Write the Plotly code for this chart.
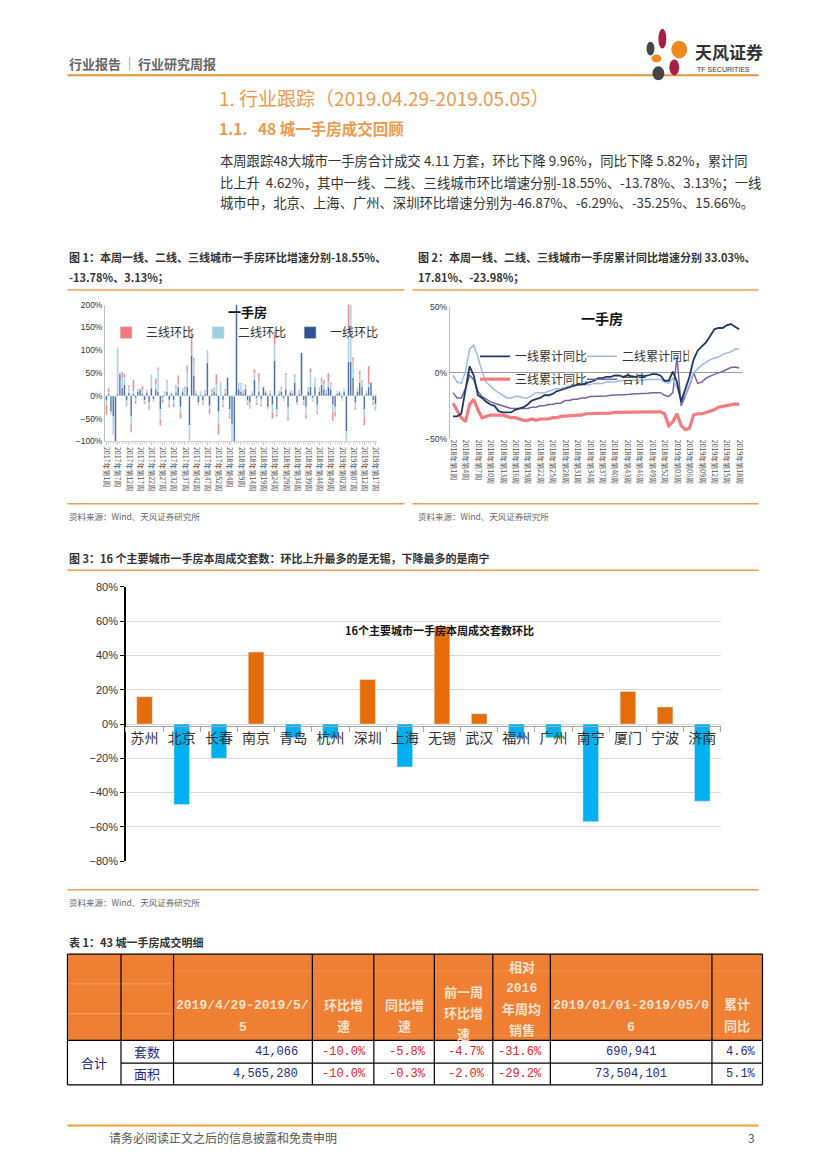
import plotly.graph_objects as go

W, H = 827, 1170
def px(x): return x / W
def py(y): return 1 - y / H

CJK = "Noto Sans CJK SC, Liberation Sans, sans-serif"

# ---------------- Figure 1 data (stacked weekly 环比) ----------------
fig1_ticktext = ["2017年第1周","2017年第7周","2017年第12周","2017年第17周","2017年第22周","2017年第27周",
                 "2017年第32周","2017年第37周","2017年第42周","2017年第47周","2017年第52周","2018年第4周",
                 "2018年第9周","2018年第14周","2018年第19周","2018年第24周","2018年第29周","2018年第34周",
                 "2018年第39周","2018年第44周","2018年第49周","2019年第02周","2019年第07周","2019年第12周",
                 "2019年第17周"]
tier1_hb = [-10,5,-35,-45,-100,5,50,18,25,-10,
            8,-45,5,-5,10,15,5,-10,8,-15,
            17,-8,15,10,-30,-5,3,10,-10,5,
            -10,8,20,-25,10,3,20,-65,90,45,
            5,-15,3,-10,5,73,-22,5,10,5,
            -35,2,-10,5,40,-30,-62,-100,200,15,
            10,5,15,-10,-15,5,35,-5,10,-8,
            20,8,-25,5,-20,78,-30,5,10,-5,
            15,-25,8,5,30,-15,5,95,-10,-25,
            10,20,-5,20,-20,10,25,15,5,20,
            15,-20,-25,5,8,-5,10,-78,75,75,
            40,-15,10,30,20,-30,5,20,30,-10,
            -18.55]
tier2_hb = [-10,3,-5,-40,0,100,0,20,15,-10,
            10,-15,5,-5,3,0,8,-3,2,-5,
            30,-5,10,45,-20,-3,2,20,-8,3,
            -5,10,5,-10,5,12,30,-35,0,30,
            3,-3,5,-5,3,27,-5,3,3,20,
            -25,25,-8,5,0,-15,-38,0,0,8,
            15,5,5,-5,-10,3,15,-10,20,-10,
            0,3,-3,3,-15,35,-10,3,5,-3,
            30,-20,2,3,10,-3,5,0,-5,-15,
            8,30,-5,18,-15,5,5,10,5,10,
            10,-15,-10,3,2,-3,5,-22,60,125,
            35,-10,5,15,10,-15,3,5,0,-5,
            -13.78]
tier3_hb = [-22,8,0,0,0,0,0,15,8,-3,
            5,-20,25,-8,2,0,8,-5,3,-10,
            0,0,13,7,-15,-7,5,5,-7,0,
            -10,5,20,-15,2,5,17,0,53,8,
            2,-2,2,-5,5,0,-13,7,5,23,
            -25,3,-7,5,0,-5,0,0,0,5,
            3,3,5,-5,-3,2,8,-5,20,-5,
            0,2,-2,3,-15,30,-5,2,5,-2,
            5,-10,2,2,7,-2,3,0,-5,-10,
            2,10,-3,2,-5,3,10,10,3,20,
            5,-20,-10,2,0,-2,0,0,80,0,
            10,-5,2,10,5,-20,2,40,0,-5,
            3.13]

# ---------------- Figure 2 data (累计同比) ----------------
fig2_weeks = [f"2018年第{n}周" for n in range(1, 53)] + [f"2019年第{n:02d}周" for n in range(1, 19)]
fig2_ticks = fig2_weeks[::3]
tier1_cum = [-33,-33,-31,-12,5,-2,-17,-19,-22,-24,
             -25,-29,-30,-30,-30,-28,-27,-26,-24,-21,
             -20,-19,-17,-17,-16,-14,-13,-12,-11,-10,
             -9,-9,-8,-7,-6,-4,-4,-3,-3,-2,
             -2,-3,-2,-2.5,-3,-2,-2.5,-2,-1,-1,
             -2,-6,-6,1,-7,-22,-12,-3,10,17,
             20,23,28,33,34,34,36,37,35,33.03]
tier2_cum = [-2,-7,-8,1,18,21,12,1,-7,-10,
             -13,-15,-17,-19,-19,-18,-18,-19,-19,-17,
             -15,-15,-15,-14,-13,-12,-12,-11,-10,-10,
             -9,-9,-9,-9,-8,-8,-8,-7,-7,-7,
             -6,-6,-6,-6,-5.5,-5.5,-5.5,-5,-5,-5,
             -5,-7,-8,-4,-12,-19,-17,-8,0,3,
             6,8,10,11,12,14,15,16,18,17.81]
tier3_cum = [-23,-29,-34,-37,-24,-20,-28,-34,-33,-32,
             -32,-32,-32,-33,-34,-34,-35,-36,-36,-35,
             -36,-35,-35,-35,-34,-34,-33,-33,-32.5,-32.5,
             -32,-32,-31,-31,-31,-30.5,-30.5,-30.5,-30.5,-30,
             -30,-30,-30,-30,-30,-30,-30,-30,-30,-29.5,
             -29.5,-31,-40,-37,-31,-40,-43,-42,-32,-31,
             -31,-30,-29,-28,-26,-25.5,-25,-24.5,-23.5,-23.98]
total_cum = [-15,-19,-19,-12,-2,-5,-14,-18,-20,-22,
             -23,-24,-25,-26,-27,-27,-27,-27,-27,-26,
             -26,-25,-25,-24,-24,-23,-23,-21,-21,-20,
             -20,-19,-19,-18,-18,-17.5,-17.5,-17.5,-17,-17,
             -16.5,-16.5,-16.5,-16,-16,-16,-15.5,-15.5,-15,-15,
             -15,-17,-18,-15,12,-25,-18,-10,0,-8,
             -7,-4,-2.5,-1,0,1,2.5,4,4.5,3.7]

# ---------------- Figure 3 data ----------------
cities = ["苏州","北京","长春","南京","青岛","杭州","深圳","上海","无锡","武汉","福州","广州","南宁","厦门","宁波","济南"]
city_hb = [16, -47, -20, 42, -8, -8, 26, -25, 57, 6, -8, -8, -57, 19, 10, -45]

# ---------------- Table data ----------------
table_header = [[], [], ["2019/4/29-2019/5/", "5"], ["环比增", "速"], ["同比增", "速"],
                ["前一周", "环比增", "速"], ["相对", "2016", "年周均", "销售"],
                ["2019/01/01-2019/05/0", "6"], ["累计", "同比"]]
row_group = "合计"
row_names = ["套数", "面积"]
row_week = ["41,066", "4,565,280"]
row_hb = ["-10.0%", "-10.0%"]
row_yoy = ["-5.8%", "-0.3%"]
row_prev = ["-4.7%", "-2.0%"]
row_2016 = ["-31.6%", "-29.2%"]
row_ytd = ["690,941", "73,504,101"]
row_cum = ["4.6%", "5.1%"]

fig = go.Figure()

# Figure 1 bars
idx = list(range(len(tier1_hb)))
fig.add_trace(go.Bar(x=idx, y=tier1_hb, name="一线环比", marker_color="#2F5391", width=0.72,
                     xaxis="x", yaxis="y", legend="legend"))
fig.add_trace(go.Bar(x=idx, y=tier2_hb, name="二线环比", marker_color="#9CCFE0", width=0.72,
                     xaxis="x", yaxis="y", legend="legend"))
fig.add_trace(go.Bar(x=idx, y=tier3_hb, name="三线环比", marker_color="#F27A7B", width=0.72,
                     xaxis="x", yaxis="y", legend="legend"))

# Figure 2 lines
fig.add_trace(go.Scatter(x=fig2_weeks, y=tier3_cum, name="三线累计同比", mode="lines",
                         line=dict(color="#F47C7F", width=3.2), xaxis="x2", yaxis="y2", legend="legend3"))
fig.add_trace(go.Scatter(x=fig2_weeks, y=total_cum, name="合计", mode="lines",
                         line=dict(color="#7B62A8", width=1.5), xaxis="x2", yaxis="y2", legend="legend3"))
fig.add_trace(go.Scatter(x=fig2_weeks, y=tier2_cum, name="二线累计同比", mode="lines",
                         line=dict(color="#9DBDE0", width=1.5), xaxis="x2", yaxis="y2", legend="legend2"))
fig.add_trace(go.Scatter(x=fig2_weeks, y=tier1_cum, name="一线累计同比", mode="lines",
                         line=dict(color="#1F3864", width=1.8), xaxis="x2", yaxis="y2", legend="legend2"))

# Figure 3 bars
bar_colors = ["#E46C0A" if v >= 0 else "#00B0F0" for v in city_hb]
fig.add_trace(go.Bar(x=cities, y=city_hb, marker_color=bar_colors, width=0.42, showlegend=False,
                     xaxis="x3", yaxis="y3", name="16个主要城市一手房本周成交套数环比"))

ann = []
def txt(s, x, y, size=12, color="#333333", xanchor="left", yanchor="middle", family=CJK):
    ann.append(dict(text=s, x=px(x), y=py(y), xref="paper", yref="paper", showarrow=False,
                    xanchor=xanchor, yanchor=yanchor, font=dict(size=size, color=color, family=family)))

shapes = []
def hline(x0, x1, y, color="#F0A050", width=1.5):
    shapes.append(dict(type="line", xref="paper", yref="paper", x0=px(x0), x1=px(x1), y0=py(y), y1=py(y),
                       line=dict(color=color, width=width)))
def vline(x, y0, y1, color="#000000", width=1):
    shapes.append(dict(type="line", xref="paper", yref="paper", x0=px(x), x1=px(x), y0=py(y0), y1=py(y1),
                       line=dict(color=color, width=width)))
def rect(x0, y0, x1, y1, fill, line_color=None, lw=0):
    shapes.append(dict(type="rect", xref="paper", yref="paper", x0=px(x0), x1=px(x1), y0=py(y0), y1=py(y1),
                       fillcolor=fill, line=dict(color=line_color or fill, width=lw)))
def ellipse(cx, cy, rx, ry, fill):
    shapes.append(dict(type="circle", xref="paper", yref="paper", x0=px(cx-rx), x1=px(cx+rx),
                       y0=py(cy+ry), y1=py(cy-ry), fillcolor=fill, line=dict(width=0)))

# Header
txt("<b>行业报告</b>", 65, 58, 13, "#666666")
txt("|", 124, 57, 12, "#999999")
txt("<b>行业研究周报</b>", 134, 58, 13, "#666666")
hline(65, 762, 70, "#E8903A", 2)
# logo
ellipse(665, 33, 4, 10, "#A81E45")
ellipse(653, 43, 4, 7, "#444444")
ellipse(682, 44, 8, 9, "#EE8A1E")
ellipse(659, 53, 5, 4, "#EE8A1E")
ellipse(677, 62, 5, 8, "#A81E45")
ellipse(661, 68, 6, 7, "#444444")
txt("<b>天风证券</b>", 696, 46, 17, "#333333")
txt("TF SECURITIES", 698, 64, 7, "#333333", family="Liberation Sans")

# Section titles
txt("1. 行业跟踪（2019.04.29-2019.05.05）", 216, 92, 19, "#EE9A4D")
txt("<b>1.1.   48 城一手房成交回顾</b>", 216, 123, 15.5, "#EE9A4D")
txt("本周跟踪48大城市一手房合计成交 4.11 万套，环比下降 9.96%，同比下降 5.82%，累计同", 217, 156, 13.3, "#333333")
txt("比上升  4.62%，其中一线、二线、三线城市环比增速分别-18.55%、-13.78%、3.13%；一线", 217, 178, 13.3, "#333333")
txt("城市中，北京、上海、广州、深圳环比增速分别为-46.87%、-6.29%、-35.25%、15.66%。", 217, 199, 13.3, "#333333")

# Figure captions
txt("<b>图 1：本周一线、二线、三线城市一手房环比增速分别-18.55%、</b>", 65, 254, 11, "#333333")
txt("<b>-13.78%、3.13%；</b>", 65, 274, 11, "#333333")
txt("<b>图 2：本周一线、二线、三线城市一手房累计同比增速分别 33.03%、</b>", 417, 254, 11, "#333333")
txt("<b>17.81%、-23.98%；</b>", 417, 274, 11, "#333333")
hline(65, 405, 287)
hline(413, 762, 287)
hline(65, 405, 503)
hline(413, 762, 503)
txt("资料来源：Wind、天风证券研究所", 65, 515, 8.5, "#666666")
txt("资料来源：Wind、天风证券研究所", 417, 515, 8.5, "#666666")
txt("<b>一手房</b>", 247, 309, 13, "#111111", xanchor="center")
txt("<b>一手房</b>", 604, 315, 14, "#111111", xanchor="center")

txt("<b>图 3：16 个主要城市一手房本周成交套数：环比上升最多的是无锡，下降最多的是南宁</b>", 65, 558, 11, "#333333")
hline(65, 762, 570)
txt("<b>16个主要城市一手房本周成交套数环比</b>", 440, 630, 11, "#111111", xanchor="center")
hline(65, 762, 893)
txt("资料来源：Wind、天风证券研究所", 65, 905, 8.5, "#666666")

# Table
txt("<b>表 1：43 城一手房成交明细</b>", 65, 946, 11, "#333333")
col_edges = [65, 119, 172, 312, 374, 435, 494, 552, 715, 766]
t_top, t_head, t_mid, t_bot = 958, 1045, 1068, 1090
rect(col_edges[0], t_top, col_edges[-1], t_head, "#EF7F33")
for yy in (988, 1018):
    hline(col_edges[0], col_edges[2], yy, "#F5A878", 0.8)
hline(col_edges[2], col_edges[-1], 1040, "#F39A60", 0.6)
hline(col_edges[2], col_edges[-1], 975, "#F39A60", 0.6)
line_ys = {2: [1010, 1032], 3: [997, 1018, 1040], 4: [972, 993, 1014, 1036]}
for ci, lines in enumerate(table_header):
    if not lines:
        continue
    cx = (col_edges[ci] + col_edges[ci + 1]) / 2
    for s, yy in zip(lines, line_ys[len(lines)]):
        txt("<b>" + s + "</b>", cx, yy, 13, "#FBE2CF", xanchor="center", family="Liberation Mono, " + CJK)
for yy in (t_top, t_head, t_mid, t_bot):
    hline(col_edges[0] if yy in (t_top, t_head, t_bot) else col_edges[1], col_edges[-1], yy, "#000000", 1.2)
for ci, xx in enumerate(col_edges):
    vline(xx, t_top, t_bot, "#000000", 1.2)
navy = "#1E2A8C"
red = "#E8202A"
txt(row_group, (col_edges[0] + col_edges[1]) / 2, (t_head + t_bot) / 2, 13, navy, xanchor="center")
mono = "Liberation Mono, DejaVu Sans Mono, monospace"
for r, yy in enumerate([(t_head + t_mid) / 2, (t_mid + t_bot) / 2]):
    txt(row_names[r], (col_edges[1] + col_edges[2]) / 2, yy, 13, navy, xanchor="center")
    txt(row_week[r], col_edges[3] - 12, yy, 12, navy, xanchor="right", family=mono)
    for ci, arr in zip(range(3, 7), [row_hb, row_yoy, row_prev, row_2016]):
        txt(arr[r], col_edges[ci + 1] - 6, yy, 12, red, xanchor="right", family=mono)
    txt(row_ytd[r], (col_edges[7] + col_edges[8]) / 2, yy, 12, navy, xanchor="center", family=mono)
    txt(row_cum[r], col_edges[9] - 5, yy, 12, navy, xanchor="right", family=mono)

# Footer
hline(65, 762, 1131, "#F0A030", 2)
txt("请务必阅读正文之后的信息披露和免责申明", 105, 1143, 12, "#555555")
txt("3", 760, 1143, 12, "#555555", xanchor="right")

fig.update_layout(
    width=W, height=H, autosize=False, margin=dict(l=0, r=0, t=0, b=0),
    paper_bgcolor="white", plot_bgcolor="white", barmode="relative",
    font=dict(family=CJK, color="#333333"),
    annotations=ann, shapes=shapes,
    xaxis=dict(domain=[px(103), px(377)], anchor="y", range=[-0.6, 120.6], tickmode="array",
               tickvals=list(range(0, 121, 5)), ticktext=fig1_ticktext, tickangle=90,
               tickfont=dict(size=7, color="#555555"), showline=True, linecolor="#D0D0D0",
               ticks="outside", ticklen=3, tickcolor="#C8C8C8", showgrid=False, zeroline=False,
               minor=dict(ticks="outside", dtick=1, ticklen=2, tickcolor="#D8D8D8", showgrid=False)),
    yaxis=dict(domain=[py(440), py(301.7)], anchor="x", range=[-100, 200], tickmode="linear", tick0=0, dtick=50,
               ticksuffix="%", tickfont=dict(size=8.5, color="#333333", family="Liberation Sans"),
               showline=True, linecolor="#BFBFBF", showgrid=False, zeroline=False),
    xaxis2=dict(domain=[px(450.5), px(745)], anchor="y2", type="category", range=[-0.8, 69.6],
                tickmode="array", tickvals=fig2_ticks, ticktext=fig2_ticks, tickangle=90,
                tickfont=dict(size=7, color="#555555"), showline=False, showgrid=False, zeroline=False, ticks=""),
    yaxis2=dict(domain=[py(437.3), py(304)], anchor="x2", range=[-50, 50], tickmode="linear", tick0=0, dtick=50,
                ticksuffix="%", tickfont=dict(size=8.5, color="#333333", family="Liberation Sans"),
                showline=True, linecolor="#BFBFBF", showgrid=False, zeroline=True, zerolinecolor="#9A9A9A",
                zerolinewidth=1.2),
    xaxis3=dict(domain=[px(124), px(724)], anchor="free", position=py(727), type="category",
                showline=True, linecolor="#A6A6A6", linewidth=1, ticks="outside", tickson="boundaries",
                ticklen=5, tickcolor="#A6A6A6", tickfont=dict(size=14, color="#333333", family=CJK),
                showgrid=False, zeroline=False, range=[-0.5, 15.5]),
    yaxis3=dict(domain=[py(864), py(587)], anchor="x3", range=[-80, 80], dtick=20, ticksuffix="%",
                tickfont=dict(size=11, color="#333333", family="Liberation Sans Narrow, Liberation Sans"),
                showline=True, linecolor="#000000", linewidth=1.5, ticks="outside", ticklen=4,
                tickcolor="#000000", showgrid=True, gridcolor="#D9D9D9", gridwidth=1, zeroline=False),
    legend=dict(x=px(104), y=py(330), xanchor="left", yanchor="middle", orientation="h",
                traceorder="reversed", font=dict(size=12, color="#333333"), entrywidth=47,
                entrywidthmode="pixels", bgcolor="rgba(0,0,0,0)"),
    legend2=dict(x=px(476), y=py(354), xanchor="left", yanchor="middle", orientation="h",
                 traceorder="reversed", font=dict(size=12, color="#333333"), entrywidth=62,
                 entrywidthmode="pixels", bgcolor="rgba(0,0,0,0)"),
    legend3=dict(x=px(476), y=py(377), xanchor="left", yanchor="middle", orientation="h",
                 traceorder="normal", font=dict(size=12, color="#333333"), entrywidth=62,
                 entrywidthmode="pixels", bgcolor="rgba(0,0,0,0)"),
)

fig.write_html("out.html", config={"displayModeBar": False},
               post_script="document.body.style.margin='0';document.body.style.padding='0';")
